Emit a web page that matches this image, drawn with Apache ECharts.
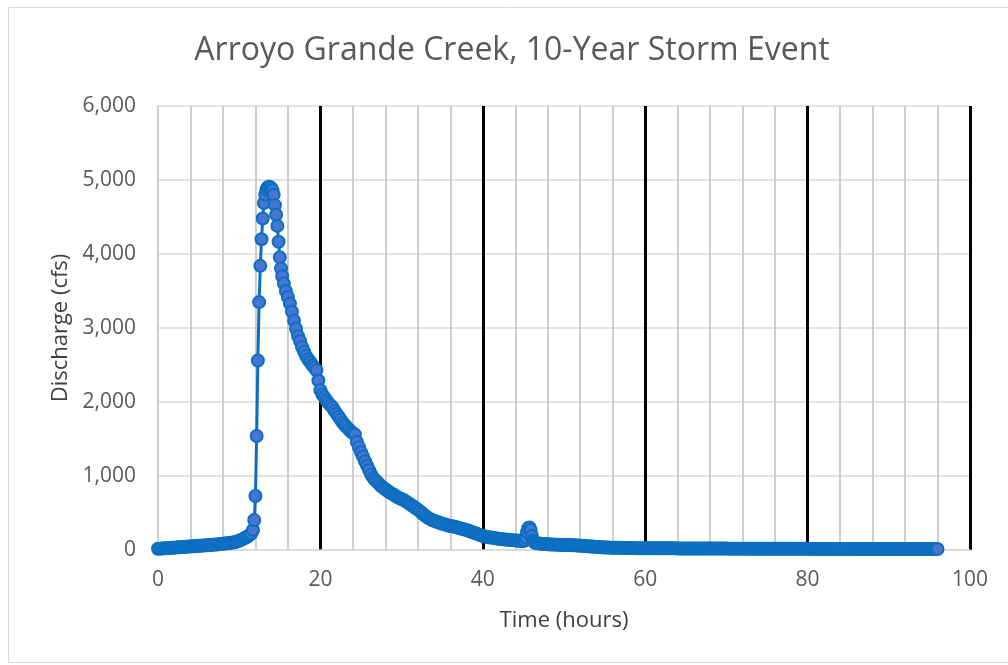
<!DOCTYPE html>
<html>
<head>
<meta charset="utf-8">
<script src="https://cdn.jsdelivr.net/npm/echarts/dist/echarts.min.js"></script>
<style>
  html, body { margin: 0; padding: 0; background: #fff; }
  #chart { width: 1008px; height: 665px; }
</style>
</head>
<body>
<div id="chart"></div>
<script>
// base flow before the storm peak
const baseHours = [0, 0.25, 0.5, 0.75, 1, 1.25, 1.5, 1.75, 2, 2.25, 2.5, 2.75, 3, 3.25, 3.5, 3.75,
                   4, 4.25, 4.5, 4.75, 5, 5.25, 5.5, 5.75, 6, 6.25, 6.5, 6.75, 7, 7.25, 7.5, 7.75,
                   8, 8.25, 8.5, 8.75, 9, 9.25, 9.5, 9.75, 10, 10.25, 10.5, 10.75, 11, 11.25, 11.5];
const baseFlow  = [16, 18, 20, 22, 24, 26, 28, 30, 32, 34, 36, 38, 40, 42, 44, 46,
                   48, 50, 52, 54, 56, 58, 60, 62, 64, 66, 68, 70, 73, 75, 78, 81,
                   84, 87, 90, 93, 97, 102, 108, 116, 125, 137, 150, 165, 180, 200, 225];

// rising limb and peak
const peakHours = [11.7, 11.85, 12, 12.15, 12.3, 12.45, 12.6, 12.75, 12.9, 13.05, 13.2, 13.35, 13.5, 13.65, 13.8, 13.95,
                   14.1, 14.25, 14.4, 14.55, 14.7, 14.85, 15, 15.15, 15.3];
const peakFlow  = [270, 405, 730, 1540, 2560, 3350, 3840, 4200, 4480, 4690, 4800, 4870, 4900, 4910, 4905, 4890,
                   4860, 4800, 4660, 4530, 4380, 4165, 3955, 3805, 3700];

// recession
const fallHours = [15.5, 15.75, 16, 16.25, 16.5, 16.75, 17, 17.25, 17.5, 17.75, 18, 18.25, 18.5, 18.75, 19, 19.25, 19.5, 19.75,
                   20, 20.25, 20.5, 20.75, 21, 21.25, 21.5, 21.75, 22, 22.25, 22.5, 22.75, 23, 23.25, 23.5, 23.75,
                   24, 24.25, 24.5, 24.75, 25, 25.25, 25.5, 25.75, 26, 26.25, 26.5, 26.75, 27, 27.25, 27.5, 27.75,
                   28, 28.25, 28.5, 28.75, 29, 29.25, 29.5, 29.75, 30, 30.25, 30.5, 30.75, 31, 31.25, 31.5, 31.75,
                   32, 32.25, 32.5, 32.75, 33, 33.25, 33.5, 33.75, 34];
const fallFlow  = [3600, 3500, 3420, 3330, 3220, 3100, 2990, 2890, 2820, 2740, 2680, 2620, 2575, 2540, 2500, 2465, 2430, 2290,
                   2160, 2100, 2060, 2020, 1985, 1955, 1925, 1880, 1840, 1800, 1760, 1720, 1690, 1660, 1630, 1600,
                   1580, 1560, 1460, 1390, 1320, 1260, 1200, 1140, 1080, 1020, 975, 945, 920, 890, 860, 840,
                   820, 800, 780, 765, 750, 730, 715, 700, 690, 675, 660, 640, 620, 605, 585, 565,
                   545, 525, 500, 475, 455, 435, 420, 405, 395];

// late recession with the small second bump near hour 46
const lateHours = [34.25, 34.5, 34.75, 35, 35.25, 35.5, 35.75, 36, 36.25, 36.5, 36.75, 37, 37.25, 37.5, 37.75,
                   38, 38.25, 38.5, 38.75, 39, 39.25, 39.5, 39.75, 40, 40.25, 40.5, 40.75, 41, 41.25, 41.5, 41.75,
                   42, 42.25, 42.5, 42.75, 43, 43.25, 43.5, 43.75, 44, 44.25, 44.5, 44.75, 45,
                   45.15, 45.3, 45.45, 45.6, 45.75, 45.9, 46.05, 46.2, 46.35, 46.5, 46.75,
                   47, 47.25, 47.5, 47.75, 48, 48.25, 48.5, 48.75, 49, 49.25, 49.5, 49.75,
                   50, 50.25, 50.5, 50.75, 51, 51.25, 51.5, 51.75, 52, 52.25, 52.5, 52.75,
                   53, 53.25, 53.5, 53.75, 54, 54.25, 54.5, 54.75, 55, 55.25, 55.5, 55.75,
                   56, 56.25, 56.5, 56.75, 57, 57.25, 57.5, 57.75, 58, 58.25, 58.5, 58.75,
                   59, 59.25, 59.5, 59.75];
const lateFlow  = [385, 375, 365, 355, 347, 340, 332, 325, 320, 315, 308, 300, 292, 285, 278,
                   270, 260, 250, 240, 230, 220, 210, 200, 190, 184, 178, 173, 168, 164, 160, 156,
                   152, 148, 145, 142, 140, 137, 135, 132, 130, 127, 125, 122, 120,
                   130, 170, 240, 295, 305, 270, 190, 130, 105, 95, 90,
                   86, 84, 82, 80, 78, 76, 75, 73, 72, 71, 70, 69,
                   68, 67, 67, 66, 65, 63, 62, 60, 58, 56, 54, 52,
                   50, 48, 46, 44, 42, 40, 38, 36, 35, 34, 33, 32,
                   31, 30, 30, 29, 29, 28, 28, 27, 27, 26, 26, 25,
                   25, 24, 24, 24];

// long flat tail
const tailHours = [60, 60.25, 60.5, 60.75, 61, 61.25, 61.5, 61.75, 62, 62.25, 62.5, 62.75, 63, 63.25, 63.5, 63.75,
                   64, 64.25, 64.5, 64.75, 65, 65.25, 65.5, 65.75, 66, 66.25, 66.5, 66.75, 67, 67.25, 67.5, 67.75,
                   68, 68.25, 68.5, 68.75, 69, 69.25, 69.5, 69.75, 70, 70.25, 70.5, 70.75, 71, 71.25, 71.5, 71.75,
                   72, 72.25, 72.5, 72.75, 73, 73.25, 73.5, 73.75, 74, 74.25, 74.5, 74.75, 75, 75.25, 75.5, 75.75,
                   76, 76.25, 76.5, 76.75, 77, 77.25, 77.5, 77.75, 78, 78.25, 78.5, 78.75, 79, 79.25, 79.5, 79.75,
                   80, 80.25, 80.5, 80.75, 81, 81.25, 81.5, 81.75, 82, 82.25, 82.5, 82.75, 83, 83.25, 83.5, 83.75,
                   84, 84.25, 84.5, 84.75, 85, 85.25, 85.5, 85.75, 86, 86.25, 86.5, 86.75, 87, 87.25, 87.5, 87.75,
                   88, 88.25, 88.5, 88.75, 89, 89.25, 89.5, 89.75, 90, 90.25, 90.5, 90.75, 91, 91.25, 91.5, 91.75,
                   92, 92.25, 92.5, 92.75, 93, 93.25, 93.5, 93.75, 94, 94.25, 94.5, 94.75, 95, 95.25, 95.5, 95.75,
                   96];
const tailFlow  = [24, 24, 23, 23, 23, 23, 23, 23, 23, 22, 22, 22, 22, 22, 22, 22,
                   21, 21, 21, 21, 21, 21, 21, 21, 20, 20, 20, 20, 20, 20, 20, 20,
                   19, 19, 19, 19, 19, 19, 19, 19, 19, 18, 18, 18, 18, 18, 18, 18,
                   18, 18, 18, 18, 17, 17, 17, 17, 17, 17, 17, 17, 17, 17, 17, 17,
                   16, 16, 16, 16, 16, 16, 16, 16, 16, 16, 16, 16, 16, 16, 16, 16,
                   16, 15, 15, 15, 15, 15, 15, 15, 15, 15, 15, 15, 15, 15, 15, 15,
                   15, 15, 15, 15, 15, 15, 15, 15, 15, 15, 14, 14, 14, 14, 14, 14,
                   14, 14, 14, 14, 14, 14, 14, 14, 14, 14, 14, 14, 14, 14, 14, 14,
                   14, 14, 14, 14, 14, 14, 14, 14, 14, 14, 14, 14, 14, 14, 14, 14,
                   14];

const xTicks = [0, 20, 40, 60, 80, 100];
const yTicks = [0, 1000, 2000, 3000, 4000, 5000, 6000];

const hours = [].concat(baseHours, peakHours, fallHours, lateHours, tailHours);
const flow = [].concat(baseFlow, peakFlow, fallFlow, lateFlow, tailFlow);
const points = hours.map((h, i) => [h, flow[i]]);

const chart = echarts.init(document.getElementById('chart'), null, { renderer: 'canvas' });

const option = {
    animation: false,
    backgroundColor: '#ffffff',
    textStyle: { fontFamily: 'Open Sans' },
    graphic: [
        {
            type: 'rect',
            shape: { x: 8.5, y: 7.5, width: 1010, height: 655 },
            style: { fill: 'none', stroke: '#d9d9d9', lineWidth: 1 },
            silent: true
        },
        {
            type: 'text',
            x: 512,
            y: 51,
            style: {
                text: 'Arroyo Grande Creek, 10-Year Storm Event',
                fill: '#595959',
                font: '400 32px "Open Sans"',
                textAlign: 'center',
                textVerticalAlign: 'middle',
                verticalAlign: 'middle'
            }
        }
    ],
    grid: {
        left: 158,
        right: 38,
        top: 106,
        bottom: 115,
        containLabel: false
    },
    xAxis: {
        type: 'value',
        min: xTicks[0],
        max: xTicks[xTicks.length - 1],
        interval: 20,
        z: 1,
        name: 'Time (hours)',
        nameLocation: 'middle',
        nameGap: 60,
        nameTextStyle: { color: '#404040', fontSize: 22, fontFamily: 'Open Sans' },
        axisLine: { show: true, lineStyle: { color: '#d9d9d9', width: 1.5 } },
        axisTick: { show: false },
        axisLabel: { color: '#595959', fontSize: 21, fontFamily: 'Open Sans', margin: 20 },
        splitLine: { show: true, showMinLine: false, lineStyle: { color: '#000000', width: 3 } },
        minorTick: { show: false, splitNumber: 5 },
        minorSplitLine: { show: true, lineStyle: { color: '#bfbfbf', width: 1.5 } }
    },
    yAxis: {
        type: 'value',
        min: yTicks[0],
        max: yTicks[yTicks.length - 1],
        interval: 1000,
        z: 0,
        name: 'Discharge (cfs)',
        nameLocation: 'middle',
        nameGap: 84,
        nameTextStyle: { color: '#404040', fontSize: 22, fontFamily: 'Open Sans' },
        axisLine: { show: true, lineStyle: { color: '#bfbfbf', width: 1.5 } },
        axisTick: { show: false },
        axisLabel: {
            color: '#595959',
            fontSize: 21,
            fontFamily: 'Open Sans',
            margin: 22,
            formatter: v => v.toLocaleString('en-US')
        },
        splitLine: { show: true, lineStyle: { color: '#d9d9d9', width: 1.5 } }
    },
    series: [
        {
            name: 'Discharge',
            type: 'line',
            data: points,
            symbol: 'circle',
            symbolSize: 12,
            showSymbol: true,
            showAllSymbol: true,
            smooth: false,
            lineStyle: { color: '#0b6fc1', width: 3 },
            itemStyle: { color: '#4775d1', borderColor: '#0b6fc1', borderWidth: 2 },
            z: 2
        }
    ]
};

chart.setOption(option);
</script>
</body>
</html>
